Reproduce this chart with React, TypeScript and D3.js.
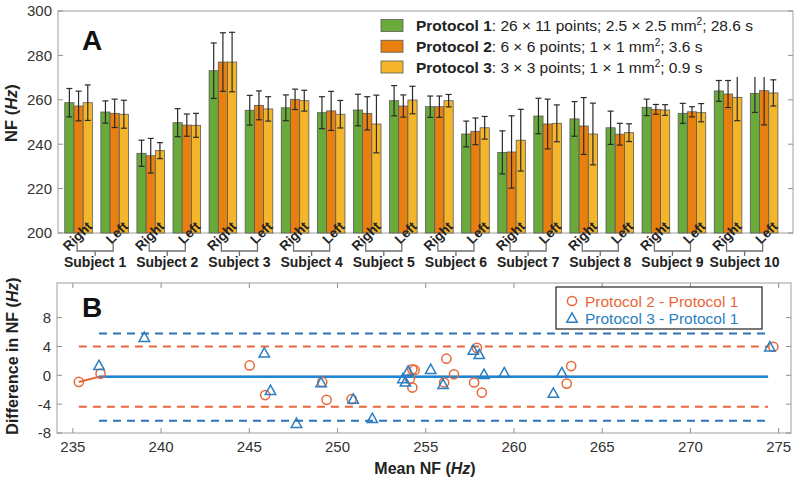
import React from "react";
import * as d3 from "d3";

// ---------- Data ----------
const subjects = ["Subject 1", "Subject 2", "Subject 3", "Subject 4", "Subject 5", "Subject 6", "Subject 7", "Subject 8", "Subject 9", "Subject 10"];
const sides = ["Right", "Left"];
const protocolNames = ["Protocol 1", "Protocol 2", "Protocol 3"];
const protocolPre = [": 26 × 11 points; 2.5 × 2.5 mm", ": 6 × 6 points; 1 × 1 mm", ": 3 × 3 points; 1 × 1 mm"];
const protocolPost = ["; 28.6 s", "; 3.6 s", "; 0.9 s"];

const p1Mean = [258.7, 254.5, 235.9, 249.7, 273.1, 255.3, 256.4, 254.2, 255.4, 259.6, 256.9, 244.6, 236.3, 252.7, 251.4, 247.4, 256.6, 253.9, 264.0, 262.9];
const p1Err = [6.4, 5.0, 5.9, 6.3, 12.5, 6.7, 5.8, 7.2, 7.1, 6.8, 4.8, 5.8, 9.7, 8.0, 7.8, 7.5, 3.7, 4.5, 4.7, 8.6];
const p2Mean = [257.2, 253.9, 234.8, 248.6, 277.0, 257.5, 260.2, 255.0, 253.9, 257.2, 256.9, 245.8, 236.5, 249.1, 248.2, 244.5, 255.7, 254.6, 262.6, 264.1];
const p2Err = [6.7, 6.4, 7.8, 5.0, 13.2, 6.5, 4.6, 8.8, 7.5, 5.0, 4.8, 6.0, 16.3, 11.2, 12.8, 4.9, 2.2, 2.3, 6.1, 15.4];
const p3Mean = [258.7, 253.5, 237.1, 248.5, 277.0, 255.9, 259.6, 253.5, 249.1, 259.9, 259.6, 247.4, 241.8, 249.4, 244.6, 245.2, 255.4, 254.2, 261.1, 263.1];
const p3Err = [8.0, 6.3, 3.6, 5.4, 13.4, 5.5, 4.7, 6.2, 13.0, 6.2, 2.8, 5.1, 13.9, 8.3, 13.9, 4.0, 2.4, 4.1, 10.5, 5.9];

const yTicksA = [200, 220, 240, 260, 280, 300];

// Bland-Altman: Protocol 2 - Protocol 1 (circles)
const c2x = [235.34, 236.57, 245.02, 245.9, 249.13, 249.38, 250.8, 254.24, 254.37, 254.24, 254.1, 256.04, 256.17, 256.6, 257.74, 257.9, 258.18, 262.99, 263.24, 274.7];
const c2y = [-0.92, 0.23, 1.37, -2.74, -0.92, -3.4, -3.3, 0.83, 0.74, -1.7, -0.46, -1.0, 2.3, 0.14, -1.0, 3.8, -2.39, -1.15, 1.28, 3.96];
// Protocol 3 - Protocol 1 (triangles)
const t3x = [236.48, 239.05, 245.85, 246.2, 247.67, 249.07, 250.89, 251.97, 253.7, 253.85, 254.0, 255.28, 255.98, 257.69, 258.03, 258.3, 259.45, 262.23, 262.71, 274.5];
const t3y = [1.37, 5.28, 3.1, -2.07, -6.66, -1.0, -3.3, -5.98, -0.46, -0.92, 0.6, 0.83, -1.24, 3.49, 2.9, 0.14, 0.37, -2.48, 0.37, 3.96];

const limits2 = { upper: 4.0, lower: -4.37, mean: -0.2 };
const limits3 = { upper: 5.8, lower: -6.3, mean: -0.2 };
const lineXEnd = 274.4;

const xTicksB = [235, 240, 245, 250, 255, 260, 265, 270, 275];
const yTicksB = [-8, -4, 0, 4, 8];
const legendB = ["Protocol 2 - Protocol 1", "Protocol 3 - Protocol 1"];

// ---------- Styles ----------
const barColors = ["#6aaa3a", "#e8800f", "#f4b52b"];
const orange = "#e8673a";
const blueMk = "#2a7fc2";
const blueDash = "#2a76b8";
const blueSolid = "#1b87d8";
const FONT = "'Liberation Sans', Arial, Helvetica, sans-serif";

export default function App() {
  // Panel A
  const aL = 58, aR = 793, aT = 11, aB = 233;
  const xA = d3.scaleLinear().domain([0.43, 20.8]).range([aL, aR]);
  const yA = d3.scaleLinear().domain([200, 300]).range([aB, aT]);
  const means = [p1Mean, p2Mean, p3Mean];
  const errs = [p1Err, p2Err, p3Err];
  const bw = 0.255;
  const bwPx = xA(bw) - xA(0);
  const groups = d3.range(20);

  // Panel B
  const bL = 57, bR = 791, bT = 283, bB = 433;
  const xB = d3.scaleLinear().domain([234.1, 275.7]).range([bL, bR]);
  const yB = d3.scaleLinear().domain([-8, 12.8]).range([bB, bT]);
  const lineGen = d3.line<[number, number]>().x((d) => xB(d[0])).y((d) => yB(d[1]));

  const tri = (cx: number, cy: number) => {
    const s = 5.2;
    return `M${cx},${cy - s}L${cx + s},${cy + s * 0.8}L${cx - s},${cy + s * 0.8}Z`;
  };

  return (
    <svg width={800} height={480} style={{ position: "absolute", left: 0, top: 0, background: "#fff" }} fontFamily={FONT}>
      <rect width={800} height={480} fill="#fff" />
      {/* ===== Panel A ===== */}
      <rect x={aL} y={aT} width={aR - aL} height={aB - aT} fill="#fff" stroke="#a0a0a0" strokeWidth={1} />
      {yTicksA.map((t) => (
        <g key={"ya" + t}>
          <line x1={aL} x2={aL + 5} y1={yA(t)} y2={yA(t)} stroke="#909090" />
          <line x1={aR} x2={aR - 5} y1={yA(t)} y2={yA(t)} stroke="#909090" />
          <text x={aL - 6} y={yA(t)} dy="0.36em" textAnchor="end" fontSize={15} fill="#333">{t}</text>
        </g>
      ))}
      {groups.map((i) => (
        <g key={"g" + i}>
          {[0, 1, 2].map((k) => {
            const cx = xA(i + 1 + (k - 1) * bw);
            const v = means[k][i];
            return (
              <rect key={k} x={cx - bwPx / 2} y={yA(v)} width={bwPx} height={yA(200) - yA(v)} fill={barColors[k]} stroke="#5a5a5a" strokeWidth={0.8} />
            );
          })}
          {[0, 1, 2].map((k) => {
            const cx = xA(i + 1 + (k - 1) * bw);
            const v = means[k][i], e = errs[k][i];
            return (
              <g key={"e" + k} stroke="#2a2a2a" strokeWidth={1.2}>
                <line x1={cx} x2={cx} y1={yA(v + e)} y2={yA(v - e)} />
                <line x1={cx - 3} x2={cx + 3} y1={yA(v + e)} y2={yA(v + e)} />
                <line x1={cx - 3} x2={cx + 3} y1={yA(v - e)} y2={yA(v - e)} />
              </g>
            );
          })}
        </g>
      ))}
      {/* rotated Right / Left labels */}
      {groups.map((i) => {
        const ax = xA(i + 1) + 11, ay = 224;
        return (
          <text key={"rl" + i} x={ax} y={ay} dy="0.35em" textAnchor="end" fontSize={13.5} fontWeight="bold" fill="#222" transform={`rotate(-45 ${ax} ${ay})`}>
            {sides[i % 2]}
          </text>
        );
      })}
      {/* subject brackets */}
      {subjects.map((s, j) => {
        const x1 = xA(2 * j + 1) - 1.5, x2 = xA(2 * j + 2) - 1.5, xm = (x1 + x2) / 2;
        return (
          <g key={s}>
            <path d={`M${x1},243V251H${x2}V243M${xm},251V256`} fill="none" stroke="#707070" strokeWidth={1.3} />
            <text x={xm} y={267} textAnchor="middle" fontSize={14} fontWeight="bold" fill="#222">{s}</text>
          </g>
        );
      })}
      {/* legend A */}
      <rect x={374} y={13} width={400} height={64} fill="#fff" />
      {protocolNames.map((p, k) => {
        const cy = 25.5 + k * 20.75;
        return (
          <g key={p}>
            <rect x={381} y={cy - 6} width={22} height={12} fill={barColors[k]} stroke="#5a5a5a" strokeWidth={0.8} />
            <text x={416} y={cy + 5.5} fontSize={15.5} fill="#222">
              <tspan fontWeight="bold">{p}</tspan>
              <tspan>{protocolPre[k]}</tspan>
              <tspan fontSize={10} dy={-6}>2</tspan>
              <tspan dy={6}>{protocolPost[k]}</tspan>
            </text>
          </g>
        );
      })}
      <text x={82} y={50} fontSize={28} fontWeight="bold" fill="#111">A</text>
      <text transform={`translate(17,113) rotate(-90)`} textAnchor="middle" fontSize={16.5} fontWeight="bold" fill="#222">
        NF (<tspan fontStyle="italic">Hz</tspan>)
      </text>

      {/* ===== Panel B ===== */}
      <rect x={bL} y={bT} width={bR - bL} height={bB - bT} fill="#fff" stroke="#a0a0a0" strokeWidth={1} />
      {xTicksB.map((t) => (
        <g key={"xb" + t}>
          <line x1={xB(t)} x2={xB(t)} y1={bB} y2={bB - 5} stroke="#909090" />
          <line x1={xB(t)} x2={xB(t)} y1={bT} y2={bT + 5} stroke="#909090" />
          <text x={xB(t)} y={bB + 19} textAnchor="middle" fontSize={15} fill="#333">{t}</text>
        </g>
      ))}
      {yTicksB.map((t) => (
        <g key={"yb" + t}>
          <line x1={bL} x2={bL + 5} y1={yB(t)} y2={yB(t)} stroke="#909090" />
          <line x1={bR} x2={bR - 5} y1={yB(t)} y2={yB(t)} stroke="#909090" />
          <text x={bL - 6} y={yB(t)} dy="0.36em" textAnchor="end" fontSize={15} fill="#333">{t}</text>
        </g>
      ))}
      {/* limit lines */}
      <path d={lineGen([[c2x[0], limits2.upper], [lineXEnd, limits2.upper]]) || ""} stroke={orange} strokeWidth={2} strokeDasharray="8 6" fill="none" />
      <path d={lineGen([[c2x[0], limits2.lower], [lineXEnd, limits2.lower]]) || ""} stroke={orange} strokeWidth={2} strokeDasharray="8 6" fill="none" />
      <path d={lineGen([[t3x[0], limits3.upper], [lineXEnd, limits3.upper]]) || ""} stroke={blueDash} strokeWidth={2} strokeDasharray="8 6" fill="none" />
      <path d={lineGen([[t3x[0], limits3.lower], [lineXEnd, limits3.lower]]) || ""} stroke={blueDash} strokeWidth={2} strokeDasharray="8 6" fill="none" />
      <path d={lineGen([[c2x[0], c2y[0]], [t3x[0], limits2.mean], [lineXEnd, limits2.mean]]) || ""} stroke={orange} strokeWidth={2} fill="none" />
      <path d={lineGen([[t3x[0], limits3.mean], [lineXEnd, limits3.mean]]) || ""} stroke={blueSolid} strokeWidth={2.3} fill="none" />
      {/* markers */}
      {c2x.map((x, i) => (
        <circle key={"c" + i} cx={xB(x)} cy={yB(c2y[i])} r={4.6} fill="none" stroke={orange} strokeWidth={1.5} />
      ))}
      {t3x.map((x, i) => (
        <path key={"t" + i} d={tri(xB(x), yB(t3y[i]))} fill="none" stroke={blueMk} strokeWidth={1.5} />
      ))}
      {/* legend B */}
      <rect x={556} y={287} width={206} height={42} fill="#fff" stroke="#222" strokeWidth={1.2} />
      <circle cx={572} cy={301} r={4.6} fill="none" stroke={orange} strokeWidth={1.5} />
      <text x={585} y={306.5} fontSize={15.5} fill={orange}>{legendB[0]}</text>
      <path d={tri(572, 318)} fill="none" stroke={blueMk} strokeWidth={1.5} />
      <text x={585} y={323.5} fontSize={15.5} fill={blueMk}>{legendB[1]}</text>

      <text x={82} y={317} fontSize={28} fontWeight="bold" fill="#111">B</text>
      <text transform={`translate(18,356) rotate(-90)`} textAnchor="middle" fontSize={16} fontWeight="bold" fill="#222">
        Difference in NF (<tspan fontStyle="italic">Hz</tspan>)
      </text>
      <text x={425} y={474} textAnchor="middle" fontSize={16} fontWeight="bold" fill="#222">
        Mean NF (<tspan fontStyle="italic">Hz</tspan>)
      </text>
    </svg>
  );
}
